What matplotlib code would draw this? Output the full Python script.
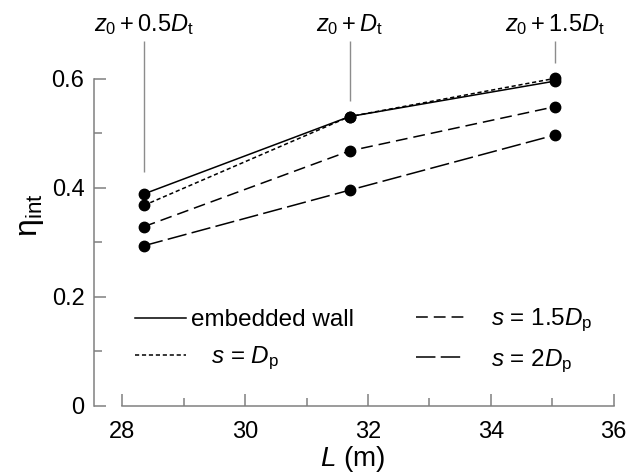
import numpy as np
import matplotlib
matplotlib.use("Agg")
import matplotlib.pyplot as plt

plt.rcParams['font.family'] = ['Liberation Sans', 'DejaVu Sans']
plt.rcParams['mathtext.fontset'] = 'custom'
plt.rcParams['mathtext.rm'] = 'Liberation Sans'
plt.rcParams['mathtext.it'] = 'Liberation Sans:italic'
plt.rcParams['mathtext.bf'] = 'Liberation Sans:bold'
plt.rcParams['lines.scale_dashes'] = False

# pile length L (m) for the three embedment depths
L = [28.35, 31.70, 35.04]
depth_labels = [r'$z_0+0.5D_\mathrm{t}$', r'$z_0+D_\mathrm{t}$', r'$z_0+1.5D_\mathrm{t}$']
depth_line_bottom = [0.43, 0.56, 0.63]

eta_wall = [0.389, 0.531, 0.596]
eta_s1 = [0.368, 0.531, 0.601]
eta_s15 = [0.329, 0.468, 0.549]
eta_s2 = [0.294, 0.396, 0.497]

series_labels = ['embedded wall', r'   $s$ = $D_\mathrm{p}$',
                 r'$s$ = 1.5$D_\mathrm{p}$', r'$s$ = 2$D_\mathrm{p}$']

fig = plt.figure(figsize=(6.27, 4.76), dpi=100)
ax = fig.add_axes([0.1364, 0.1471, 0.852, 0.8015])

lw = 1.1
ms = 7.5
h1, = ax.plot(L, eta_wall, '-', color='k', lw=lw, marker='o', ms=ms)
h2, = ax.plot(L, eta_s1, color='k', lw=lw, marker='o', ms=ms, dashes=(3, 2))
h3, = ax.plot(L, eta_s15, color='k', lw=lw, marker='o', ms=ms, dashes=(8.5, 4.3))
h4, = ax.plot(L, eta_s2, color='k', lw=lw, marker='o', ms=ms, dashes=(14, 3.8))

# depth markers above each group of points
ax.vlines(L, depth_line_bottom, 0.67, color='#8c8c8c', lw=1.0, clip_on=False)
for x, lab in zip(L, depth_labels):
    ax.text(x, 0.687, lab, ha='center', va='baseline', fontsize=17, clip_on=False)

ax.set_xlim(27.4, 36.1)
ax.set_ylim(0, 0.7)

gray = '#808080'
for side in ['top', 'right']:
    ax.spines[side].set_visible(False)
ax.spines['left'].set_position(('data', 27.54))
ax.spines['left'].set_bounds(0, 0.6)
ax.spines['bottom'].set_bounds(28, 36)
for side in ['left', 'bottom']:
    ax.spines[side].set_color(gray)
    ax.spines[side].set_linewidth(1.1)

ax.set_xticks(np.arange(28, 37, 2))
ax.set_xticks(np.arange(29, 36, 2), minor=True)
ax.set_yticks([0, 0.2, 0.4, 0.6])
ax.set_yticklabels(['0', '0.2', '0.4', '0.6'])
ax.set_yticks([0.1, 0.3, 0.5], minor=True)
ax.tick_params(which='both', direction='in', color=gray, width=1.1, labelsize=17)
ax.tick_params(which='major', length=8.5)
ax.tick_params(which='minor', length=6)
ax.tick_params(axis='x', pad=11)
ax.tick_params(axis='y', pad=7)

ax.set_xlabel(r'$L$ (m)', fontsize=20, labelpad=0.5)
ax.set_ylabel(r'η$_{\mathrm{int}}$', fontsize=23, labelpad=4)

leg1 = fig.legend([h1, h2], series_labels[:2], loc='center left',
                  bbox_to_anchor=(0.215, 0.284), frameon=False, fontsize=17.5,
                  handlelength=2.1, handletextpad=0.2, labelspacing=0.55,
                  borderpad=0, borderaxespad=0, numpoints=1)
leg2 = fig.legend([h3, h4], series_labels[2:], loc='center left',
                  bbox_to_anchor=(0.663, 0.284), frameon=False, fontsize=17.5,
                  handlelength=2.0, handletextpad=1.1, labelspacing=0.55,
                  borderpad=0, borderaxespad=0, numpoints=1)
for leg in (leg1, leg2):
    for line in leg.get_lines():
        line.set_marker('')

fig.savefig('out.png', dpi=100)
